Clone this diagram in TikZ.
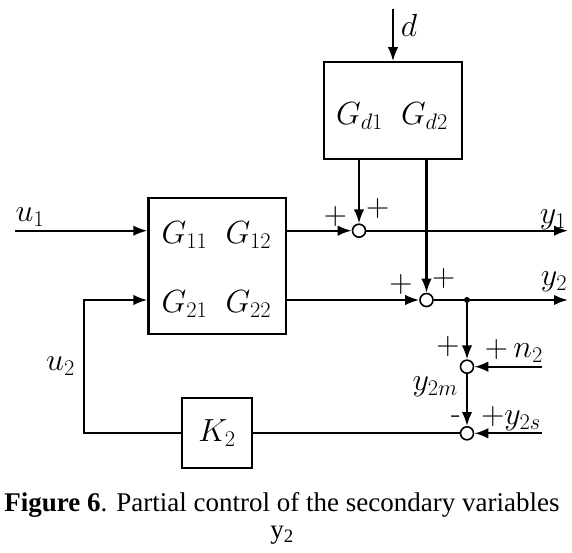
\documentclass[tikz,border=0pt]{standalone}
\usepackage{fix-cm}
\usepackage[no-math]{fontspec}
\newfontfamily\capfont{Liberation Serif}
\usetikzlibrary{arrows.meta,positioning,calc}
\tikzset{
  blockbox/.style={draw=black,line width=2.3pt,minimum width=137.5pt,minimum height=136pt,inner sep=0pt},
  sumnode/.style={circle,draw=black,fill=white,line width=1.6pt,minimum size=13pt,inner sep=0pt},
  junction/.style={circle,fill=black,minimum size=6pt,inner sep=0pt},
  signal/.style={line width=2.2pt,draw=black},
  arrow/.style={signal,-{Latex[length=14pt,width=10.5pt]}},
  lbl/.style={inner sep=0pt},
  capt/.style={inner sep=0pt,font=\capfont\fontsize{27}{32}\selectfont}
}

\begin{document}
\begin{tikzpicture}[x=1pt,y=-1pt,font=\fontsize{32}{38}\selectfont]
    \useasboundingbox (0,0) rectangle (572,553);
    % blocks
    \node[blockbox,minimum height=96.7pt] (gd) at (393,110.7) {};
    \node[lbl] (gdrow) at (392,116) {$G_{d1}\hspace{18pt}G_{d2}$};
    \node[blockbox] (g) at (217.25,266.2) {};
    \node[lbl] (g1row) at (216.5,235) {$G_{11}\hspace{18pt}G_{12}$};
    \node[lbl] (g2row) at (216.5,304) {$G_{21}\hspace{18pt}G_{22}$};
    \node[blockbox,minimum width=70pt,minimum height=70pt] (k) at (217,433.3) {$K_2$};
    % summing points
    \node[sumnode] (s1) at (359,230.7) {};
    \node[sumnode] (s2) at (426.5,300) {};
    \node[sumnode] (s3) at (467,366.7) {};
    \node[sumnode] (s4) at (467,433.3) {};
    \node[junction] (j) at (467,300) {};
    % free ends
    \coordinate (din) at (393,9.3);
    \coordinate (u1in) at (15,230.7);
    \coordinate (y1out) at (568,230.7);
    \coordinate (y2out) at (568,300);
    \coordinate (n2in) at (542,366.7);
    \coordinate (y2sin) at (542,433.3);
    \coordinate (fb) at (83.6,433.3);
    % signals
    \draw[arrow] (din) -- (gd.north);
    \draw[arrow] (u1in) -- (g.west |- u1in);
    \draw[arrow] (g.east |- s1) -- (s1);
    \draw[arrow] (gd.south -| s1) -- (s1);
    \draw[arrow] (s1) -- (y1out);
    \draw[arrow] (g.east |- s2) -- (s2);
    \draw[arrow] (gd.south -| s2) -- (s2);
    \draw[arrow] (s2) -- (y2out);
    \draw[arrow] (j) -- (s3);
    \draw[arrow] (n2in) -- (s3);
    \draw[arrow] (s3) -- (s4);
    \draw[arrow] (y2sin) -- (s4);
    \draw[signal] (s4) -- (k);
    \draw[arrow] (k) -- (fb) -- (fb |- s2) -- (g.west |- s2);
    % labels
    \node[lbl] (dlbl) at (409,25) {$d$};
    \node[lbl] (u1lbl) at (30,217) {$u_1$};
    \node[lbl] (y1lbl) at (553,220) {$y_1$};
    \node[lbl] (y2lbl) at (554,282) {$y_2$};
    \node[lbl] (u2lbl) at (60.5,366) {$u_2$};
    \node[lbl,anchor=east] (y2mlbl) at (458,387) {$y_{2m}$};
    \node[lbl] (p1a) at (335.5,217) {$+$};
    \node[lbl] (p1b) at (377.7,209) {$+$};
    \node[lbl] (p2a) at (401,284) {$+$};
    \node[lbl] (p2b) at (443.7,278) {$+$};
    \node[lbl] (p3a) at (448,346) {$+$};
    \node[lbl,anchor=east] (n2lbl) at (543,351) {$+\,n_2$};
    \node[lbl] (m4) at (456,420) {-};
    \node[lbl,anchor=east] (y2slbl) at (541,419) {$+y_{2s}$};
    % caption
    \node[capt] (cap) at (282,504.5) {\textbf{Figure 6}. Partial control of the secondary variables};
    \node[capt] (cap2) at (282,535) {y\textsubscript{2}};
\end{tikzpicture}
\end{document}
